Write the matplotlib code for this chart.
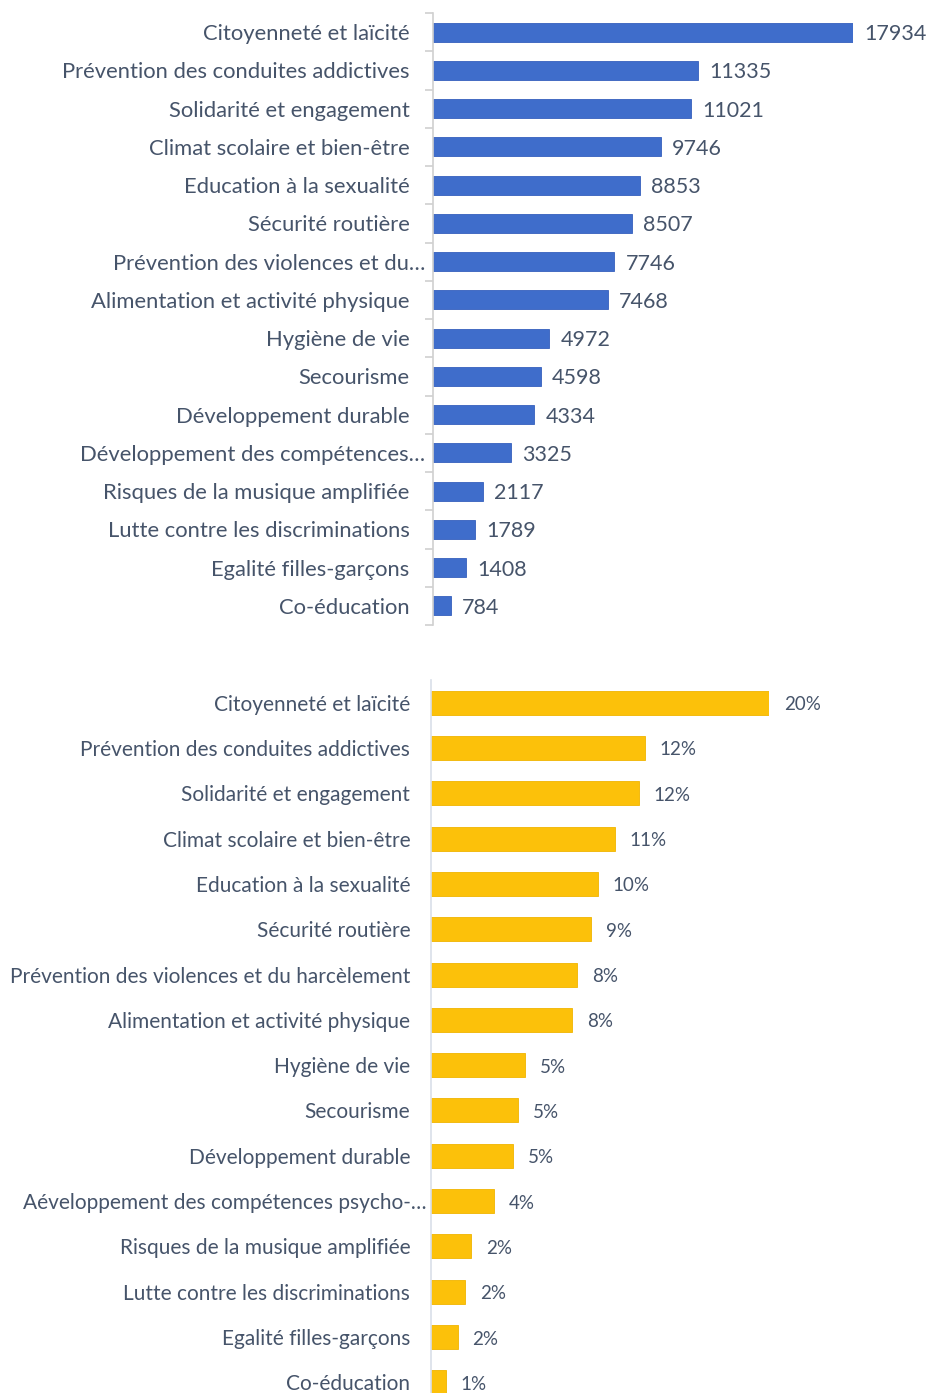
import numpy as np
import matplotlib
matplotlib.use("Agg")
import matplotlib.pyplot as plt
from matplotlib.transforms import ScaledTranslation

# Data
themes_top = [
    "Citoyenneté et laïcité", "Prévention des conduites addictives",
    "Solidarité et engagement", "Climat scolaire et bien-être",
    "Education à la sexualité", "Sécurité routière",
    "Prévention des violences et du…", "Alimentation et activité physique",
    "Hygiène de vie", "Secourisme", "Développement durable",
    "Développement des compétences…", "Risques de la musique amplifiée",
    "Lutte contre les discriminations", "Egalité filles-garçons", "Co-éducation",
]
themes_bottom = [
    "Citoyenneté et laïcité", "Prévention des conduites addictives",
    "Solidarité et engagement", "Climat scolaire et bien-être",
    "Education à la sexualité", "Sécurité routière",
    "Prévention des violences et du harcèlement", "Alimentation et activité physique",
    "Hygiène de vie", "Secourisme", "Développement durable",
    "Aéveloppement des compétences psycho-…", "Risques de la musique amplifiée",
    "Lutte contre les discriminations", "Egalité filles-garçons", "Co-éducation",
]
counts = [17934, 11335, 11021, 9746, 8853, 8507, 7746, 7468,
          4972, 4598, 4334, 3325, 2117, 1789, 1408, 784]
shares = [19.60, 12.39, 12.04, 10.65, 9.68, 9.30, 8.47, 8.16,
          5.43, 5.03, 4.74, 3.63, 2.31, 1.96, 1.54, 0.86]

W, H = 928, 1393
FONT = "Lato"
TXT = "#46546a"

fig = plt.figure(figsize=(W / 100, H / 100), dpi=100)


def px_axes(x0, x1, y0, y1):
    return fig.add_axes([x0 / W, 1 - y1 / H, (x1 - x0) / W, (y1 - y0) / H])


def nudge_truncated(ax, dx_px=16):
    # truncated labels (ending with an ellipsis) run closer to the axis
    for lab in ax.get_yticklabels():
        if lab.get_text().endswith("…"):
            lab.set_transform(lab.get_transform()
                              + ScaledTranslation(dx_px / 100, 0, fig.dpi_scale_trans))


# ---------------- top chart: counts ----------------
ax1 = px_axes(433, 853, 13, 625)
y = np.arange(len(counts))
ax1.barh(y, counts, height=0.5, color="#3f6dcb", edgecolor="#3560bd", linewidth=0.6)
ax1.set_ylim(len(counts) - 0.5, -0.5)
ax1.set_xlim(0, max(counts))
ax1.set_yticks(y)
ax1.set_yticklabels(themes_top, fontsize=15.8, color=TXT, family=FONT)
ax1.tick_params(axis="y", length=0, pad=17)
ax1.set_yticks(np.arange(-0.5, len(counts)), minor=True)
ax1.tick_params(axis="y", which="minor", length=6, color="#d0d0d0", width=1.2)
ax1.set_xticks([])
for s in ["top", "right", "bottom"]:
    ax1.spines[s].set_visible(False)
ax1.spines["left"].set_color("#d0d0d0")
ax1.spines["left"].set_linewidth(1.2)
nudge_truncated(ax1)
for yi, v in zip(y, counts):
    ax1.annotate(f"{v}", (v, yi), xytext=(11, -2), textcoords="offset pixels",
                 va="center", ha="left", fontsize=15.5, color=TXT, family=FONT,
                 annotation_clip=False)

# ---------------- bottom chart: shares ----------------
ax2 = px_axes(431, 769, 680, 1405)
y2 = np.arange(len(shares))
ax2.barh(y2, shares, height=0.53, color="#fcc10a", edgecolor="#f0b400", linewidth=0.6)
ax2.set_ylim(len(shares) - 0.5, -0.5)
ax2.set_xlim(0, max(shares))
ax2.set_yticks(y2)
ax2.set_yticklabels(themes_bottom, fontsize=15, color=TXT, family=FONT)
ax2.tick_params(axis="y", length=0, pad=15)
ax2.set_xticks([])
for s in ["top", "right", "bottom"]:
    ax2.spines[s].set_visible(False)
ax2.spines["left"].set_color("#d9dfe9")
ax2.spines["left"].set_linewidth(1.2)
nudge_truncated(ax2)
for yi, v in zip(y2, shares):
    ax2.annotate(f"{v:.0f}%", (v, yi), xytext=(15, -2), textcoords="offset pixels",
                 va="center", ha="left", fontsize=13.5, color=TXT, family=FONT,
                 annotation_clip=False)

fig.savefig("out.png", dpi=100, facecolor="white")
